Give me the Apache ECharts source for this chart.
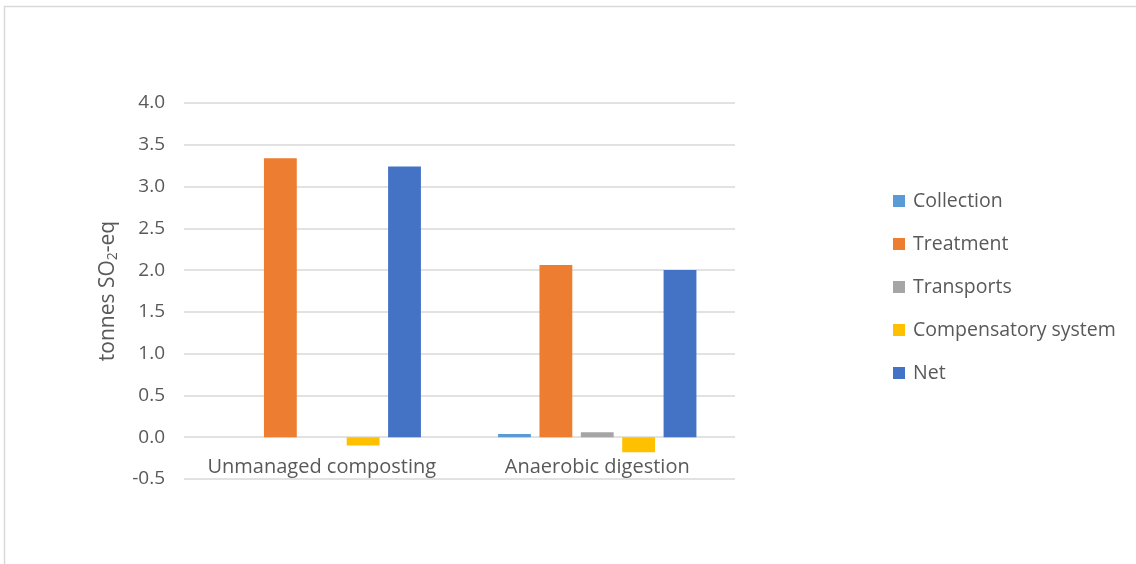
<!DOCTYPE html>
<html>
<head>
<meta charset="utf-8">
<script src="https://cdn.jsdelivr.net/npm/echarts@6/dist/echarts.min.js"></script>
<style>
  html, body { margin: 0; padding: 0; background: #fff; }
  #chart { width: 1136px; height: 564px; }
</style>
</head>
<body>
<div id="chart"></div>
<script>
// Acidification results per treatment route (tonnes SO2-eq)
const categories = ['Unmanaged composting', 'Anaerobic digestion'];
const seriesNames = ['Collection', 'Treatment', 'Transports', 'Compensatory system', 'Net'];
const collection = [0, 0.04];
const treatment = [3.34, 2.06];
const transports = [0, 0.06];
const compensatory = [-0.10, -0.18];
const net = [3.24, 2.00];
const yTicks = { min: -0.5, max: 4.0, interval: 0.5 };

const colors = ['#5B9BD5', '#ED7D31', '#A5A5A5', '#FFC000', '#4472C4'];
const values = [collection, treatment, transports, compensatory, net];
const FONT = '"Open Sans", sans-serif';
const TEXT = '#595959';

const chart = echarts.init(document.getElementById('chart'));
chart.setOption({
  animation: false,
  color: colors,
  graphic: [{
    type: 'rect',
    shape: { x: 4.5, y: 6.5, width: 1140, height: 580 },
    style: { fill: 'none', stroke: '#d9d9d9', lineWidth: 1.5 },
    silent: true
  }],
  grid: { left: 184, right: 401, top: 103, bottom: 85 },
  legend: {
    orient: 'vertical',
    left: 888,
    top: 186,
    itemWidth: 12,
    itemHeight: 12,
    itemGap: 23,
    icon: 'rect',
    textStyle: { color: TEXT, fontSize: 19.5, fontFamily: FONT, padding: [0, 0, 0, 3] },
    data: seriesNames
  },
  xAxis: {
    type: 'category',
    data: categories,
    axisLine: { show: false, onZero: false },
    axisTick: { show: false },
    axisLabel: { color: TEXT, fontSize: 20, fontFamily: FONT, margin: -22, interval: 0 }
  },
  yAxis: {
    type: 'value',
    min: yTicks.min,
    max: yTicks.max,
    interval: yTicks.interval,
    axisLine: { show: false },
    axisTick: { show: false },
    splitLine: { lineStyle: { color: '#d9d9d9', width: 1.5 } },
    axisLabel: {
      color: TEXT, fontSize: 19, fontFamily: FONT, margin: 19,
      formatter: v => v.toFixed(1)
    },
    name: '{a|tonnes SO}{s|2}{a|-eq}',
    nameLocation: 'middle',
    nameGap: 64,
    nameRotate: 90,
    nameTextStyle: {
      rich: {
        a: { color: TEXT, fontSize: 21, fontFamily: FONT },
        s: { color: TEXT, fontSize: 14, fontFamily: FONT, verticalAlign: 'bottom', padding: [9, 0, 0, 0] }
      }
    }
  },
  series: seriesNames.map((name, i) => ({
    name,
    type: 'bar',
    data: values[i],
    barGap: '26%',
    barCategoryGap: '28%',
    itemStyle: { color: colors[i] }
  }))
});
</script>
</body>
</html>
